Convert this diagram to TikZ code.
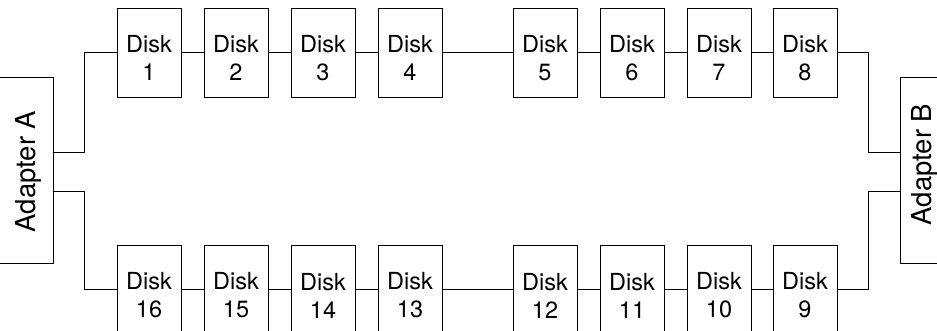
\documentclass[tikz,border=0pt]{standalone}
\usepackage{fontspec}
\setmainfont{TeX Gyre Heros}
\begin{document}
\begin{tikzpicture}[x=1pt,y=-1pt,
  line width=0.9pt,
  disk/.style={draw, minimum width=64pt, minimum height=89pt, inner sep=0pt,
    align=center, font=\fontsize{23.5}{28}\selectfont},
  adbox/.style={minimum width=54pt, minimum height=185pt, inner sep=0pt},
  adlabel/.style={rotate=90, anchor=base, inner sep=0pt, font=\fontsize{27.5}{30}\selectfont},
  wire/.style={draw}]
\useasboundingbox (0,0) rectangle (937,331);
% top row
\foreach \n/\x in {1/149,2/236,3/323,4/410,5/545,6/632,7/719,8/805}
  \node[disk] (d\n) at (\x,52.5) {\rule{0pt}{29pt}Disk\\\n};
% bottom row
\foreach \n/\x in {16/149,15/236,14/323,13/410,12/545,11/632,10/719,9/805}
  \node[disk] (d\n) at (\x,289.5) {\rule{0pt}{29pt}Disk\\\n};
% adapters
\node[adbox] (adA) at (26,170.5) {};
\node[adbox] (adB) at (928,170.5) {};
\node[adlabel] (adAlabel) at (35,171.5) {Adapter A};
\node[adlabel] (adBlabel) at (931,164.5) {Adapter B};
\draw ([xshift=-3pt]adA.north west) -- (adA.north east) -- (adA.south east) -- ([xshift=-3pt]adA.south west);
\draw ([xshift=3pt]adB.north east) -- (adB.north west) -- (adB.south west) -- ([xshift=3pt]adB.south east);
% chain connectors
\foreach \a/\b in {1/2,2/3,3/4,4/5,5/6,6/7,7/8,16/15,15/14,14/13,13/12,12/11,11/10,10/9}
  \draw[wire] (d\a.east) -- (d\b.west);
% adapter connectors
\coordinate (cA1) at (84,152);
\coordinate (cA2) at (84,191);
\coordinate (cB1) at (868,152);
\coordinate (cB2) at (868,191);
\draw[wire] (adA.east |- cA1) -- (cA1) |- (d1.west);
\draw[wire] (adA.east |- cA2) -- (cA2) |- (d16.west);
\draw[wire] (adB.west |- cB1) -- (cB1) |- (d8.east);
\draw[wire] (adB.west |- cB2) -- (cB2) |- (d9.east);
\end{tikzpicture}
\end{document}
